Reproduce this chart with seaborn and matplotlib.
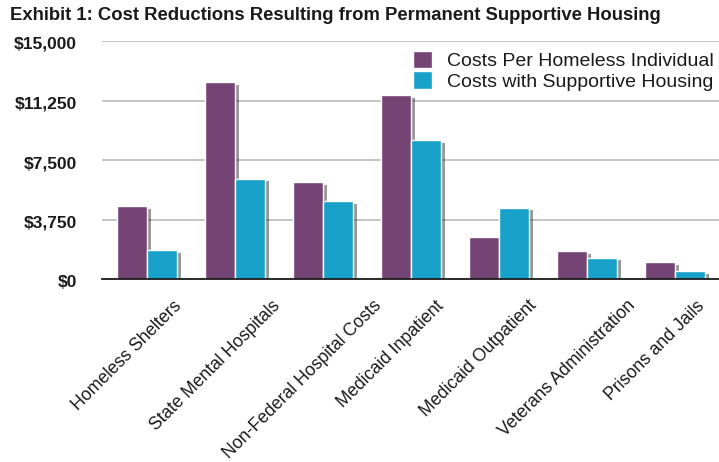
import matplotlib
matplotlib.use("Agg")
import matplotlib.pyplot as plt
import matplotlib.patheffects as pe
import matplotlib.transforms as mtransforms
import seaborn as sns
import pandas as pd

categories = ["Homeless Shelters", "State Mental Hospitals", "Non-Federal Hospital Costs",
              "Medicaid Inpatient", "Medicaid Outpatient", "Veterans Administration",
              "Prisons and Jails"]
costs_homeless = [4620, 12410, 6130, 11610, 2680, 1760, 1070]
costs_supportive = [1850, 6340, 4910, 8780, 4510, 1360, 540]
series_names = ["Costs Per Homeless Individual", "Costs with Supportive Housing"]
yticks = [0, 3750, 7500, 11250, 15000]
ytick_labels = ["$0", "$3,750", "$7,500", "$11,250", "$15,000"]

df = pd.DataFrame({
    "category": categories * 2,
    "value": costs_homeless + costs_supportive,
    "series": [series_names[0]] * len(categories) + [series_names[1]] * len(categories),
})

sns.set_theme(style="white")
plt.rcParams["font.family"] = ["Liberation Sans", "DejaVu Sans"]

fig = plt.figure(figsize=(7.19, 4.62), dpi=100)
ax = fig.add_axes([0.1419, 0.3954, 0.8581, 0.5159])

palette = ["#744474", "#17a0c8"]
sns.barplot(data=df, x="category", y="value", hue="series", palette=palette,
            hue_order=series_names, order=categories, width=0.68, saturation=1,
            ax=ax, zorder=3, legend=True)

for p in ax.patches:
    p.set_path_effects([pe.SimplePatchShadow(offset=(3, -2), shadow_rgbFace="black", alpha=0.4),
                        pe.Normal()])

ax.set_ylim(0, 15000)
ax.set_xlim(-0.51, 6.5)
ax.set_yticks(yticks)
ax.set_yticklabels(ytick_labels)
ax.tick_params(axis="y", length=0, pad=18)
ax.tick_params(axis="x", length=0, pad=13)
ydown = mtransforms.ScaledTranslation(0, -2 / 100, fig.dpi_scale_trans)
for t in ax.get_yticklabels():
    t.set_fontsize(12.5)
    t.set_fontweight("bold")
    t.set_color("#1a1a1a")
    t.set_transform(t.get_transform() + ydown)

ax.set_xticks(range(len(categories)))
ax.set_xticklabels(categories, rotation=45, ha="center", va="top",
                   fontsize=12.7, color="#1a1a1a")
xshift = mtransforms.ScaledTranslation(-20 / 100, 0, fig.dpi_scale_trans)
for t in ax.get_xticklabels():
    t.set_transform(t.get_transform() + xshift)
ax.set_xlabel("")
ax.set_ylabel("")
ax.grid(axis="y", color="#c4c4c4", linewidth=1.4, zorder=0)
for s in ["top", "right", "left"]:
    ax.spines[s].set_visible(False)
ax.spines["bottom"].set_color("#1a1a1a")
ax.spines["bottom"].set_linewidth(1.3)
ax.spines["bottom"].set_zorder(4)

leg = ax.legend(loc="upper left", bbox_to_anchor=(413 / 719, 1 - 51 / 462),
                bbox_transform=fig.transFigure, frameon=False,
                fontsize=14, handlelength=1.0, handleheight=1.0, handletextpad=0.75,
                labelspacing=0.05, borderaxespad=0.0, borderpad=0.0)
for h in leg.legend_handles:
    h.set_path_effects([])
for t in leg.get_texts():
    t.set_color("#1a1a1a")

fig.text(10 / 719, 1 - 15 / 462,
         "Exhibit 1: Cost Reductions Resulting from Permanent Supportive Housing",
         fontsize=13.3, fontweight="bold", color="#1a1a1a", ha="left", va="center")

fig.savefig("out.png", dpi=100)
